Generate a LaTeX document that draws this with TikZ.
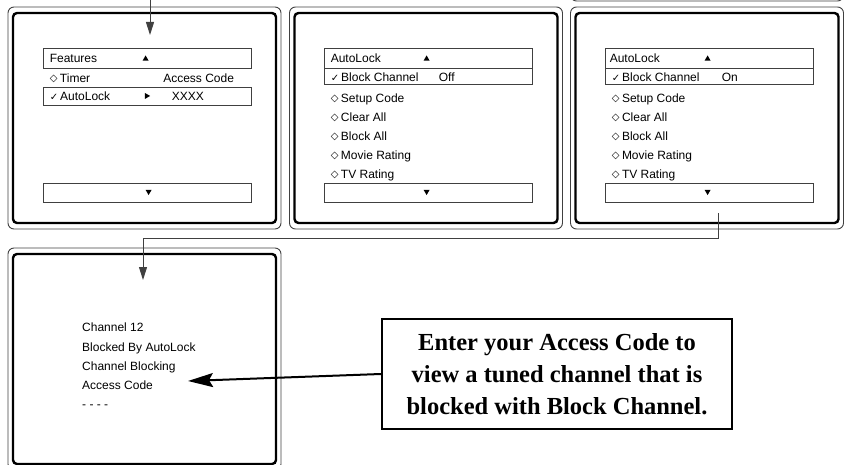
\documentclass[tikz,border=0pt]{standalone}
\usepackage{fontspec}
\setmainfont{Liberation Serif}
\newfontfamily\osd{Liberation Sans}
\newfontfamily\symb{DejaVu Sans}
\usetikzlibrary{shapes,positioning,calc,arrows.meta}
\colorlet{framegray}{black!75}
\newcommand{\dia}{{\symb\fontsize{10}{10}\selectfont\raisebox{0.6pt}{◇}}\kern2.5pt}
\newcommand{\chk}{{\symb\fontsize{10}{10}\selectfont\raisebox{-0.3pt}{✓}}\kern2pt}

\begin{document}
\begin{tikzpicture}[x=1pt, y=-1pt,
  bezel/.style={draw=framegray, line width=0.9pt, rounded corners=6pt, minimum width=273pt, minimum height=222pt, inner sep=0pt},
  screen/.style={draw, line width=2.4pt, rounded corners=4pt, minimum width=263pt, minimum height=210pt, inner sep=0pt},
  bar/.style={draw=framegray, line width=0.8pt, minimum width=208pt, minimum height=#1, inner sep=0pt},
  item/.style={inner sep=0pt, text height=8.6pt, text depth=0pt, font=\osd\fontsize{12}{14}\selectfont},
  caret/.style={regular polygon, regular polygon sides=3, fill, inner sep=0pt, minimum size=7pt},
  link/.style={draw=framegray, line width=1pt, -{Triangle[length=13pt,width=8pt]}},
  pointer/.style={line width=2pt, -{Stealth[length=25pt,width=14pt,inset=4pt]}},
  note/.style={draw, line width=2.4pt, align=center, minimum width=350pt, minimum height=110pt, font=\bfseries\fontsize{24.5}{32}\selectfont}]

\useasboundingbox (0,0) rectangle (845,465);
\clip (0,0) rectangle (845,465);

% SCREENS

\node [bezel] (p0) at (707,-110) {};

\node [bezel] (p1) at (144.5,118) {};
\node [screen] (s1) at (p1) {};

\node [bezel] (p2) at (426,118) {};
\node [screen] (s2) at (p2) {};

\node [bezel] (p3) at (707,118) {};
\node [screen] (s3) at (p3) {};

\node [bezel] (p4) at (144.5,359) {};
\node [screen] (s4) at (p4) {};

% FEATURES MENU

\node [bar=20pt, below=41pt of p1.north, xshift=2.5pt] (p1top) {};
\node [item, right=7pt of p1top.west] (p1feat) {Features};
\node [caret, right=103pt of p1top.west, anchor=center, yshift=-1pt] (p1up) {};

\node [item, below=20pt of p1feat.west, anchor=west] (p1timer) {\dia Timer};
\node [item, right=113.5pt of p1timer.west, anchor=west] (p1code) {Access Code};

\node [bar=18pt, below=38pt of p1top.center, anchor=center] (p1sel) {};
\node [item, below=18pt of p1timer.west, anchor=west] (p1auto) {\chk AutoLock};
\node [caret, shape border rotate=-90, right=104pt of p1sel.west, anchor=center] (p1right) {};
\node [item, right=129pt of p1sel.west] (p1xxxx) {XXXX};

\node [bar=19pt, above=27pt of p1.south, xshift=2.5pt] (p1bot) {};
\node [caret, shape border rotate=180, right=106pt of p1bot.west, anchor=center, yshift=1pt] (p1down) {};

% AUTOLOCK MENU, OFF

\node [bar=20pt, below=41pt of p2.north, xshift=2pt] (p2top) {};
\node [item, right=7pt of p2top.west] (p2title) {AutoLock};
\node [caret, right=103pt of p2top.west, anchor=center, yshift=-1pt] (p2up) {};

\node [bar=16pt, below=0pt of p2top] (p2sel) {};
\node [item, right=7pt of p2sel.west] (p2block) {\chk Block Channel};
\node [item, right=115pt of p2sel.west] (p2state) {Off};

\node [item, below=21pt of p2block.west, anchor=west] (p2setup) {\dia Setup Code};
\node [item, below=19pt of p2setup.west, anchor=west] (p2clear) {\dia Clear All};
\node [item, below=19pt of p2clear.west, anchor=west] (p2all) {\dia Block All};
\node [item, below=19pt of p2all.west, anchor=west] (p2movie) {\dia Movie Rating};
\node [item, below=19.5pt of p2movie.west, anchor=west] (p2tv) {\dia TV Rating};

\node [bar=19pt, above=27pt of p2.south, xshift=2pt] (p2bot) {};
\node [caret, shape border rotate=180, right=103pt of p2bot.west, anchor=center, yshift=1pt] (p2down) {};

% AUTOLOCK MENU, ON

\node [bar=20pt, below=41pt of p3.north, xshift=2pt] (p3top) {};
\node [item, right=5pt of p3top.west] (p3title) {AutoLock};
\node [caret, right=103pt of p3top.west, anchor=center, yshift=-1pt] (p3up) {};

\node [bar=16pt, below=0pt of p3top] (p3sel) {};
\node [item, right=7pt of p3sel.west] (p3block) {\chk Block Channel};
\node [item, right=117pt of p3sel.west] (p3state) {On};

\node [item, below=21pt of p3block.west, anchor=west] (p3setup) {\dia Setup Code};
\node [item, below=19pt of p3setup.west, anchor=west] (p3clear) {\dia Clear All};
\node [item, below=19pt of p3clear.west, anchor=west] (p3all) {\dia Block All};
\node [item, below=19pt of p3all.west, anchor=west] (p3movie) {\dia Movie Rating};
\node [item, below=19.5pt of p3movie.west, anchor=west] (p3tv) {\dia TV Rating};

\node [bar=19pt, above=27pt of p3.south, xshift=2pt] (p3bot) {};
\node [caret, shape border rotate=180, right=103pt of p3bot.west, anchor=center, yshift=1pt] (p3down) {};

% BLOCKED CHANNEL

\node [item, anchor=west] (chan) at (82,327) {Channel 12};
\node [item, below=20pt of chan.west, anchor=west] (blocked) {Blocked By AutoLock};
\node [item, below=19pt of blocked.west, anchor=west] (blocking) {Channel Blocking};
\node [item, below=19pt of blocking.west, anchor=west] (accode) {Access Code};
\node [item, below=19pt of accode.west, anchor=west] (dashes) {- - - -};

\node [note] (note) at (557,374) {Enter your Access Code to\\view a tuned channel that is\\blocked with Block Channel.};

% CONNECTORS

\coordinate (feed) at (150,-5);
\coordinate (p1in) at (150,35);
\coordinate (p3out) at (718,213);
\coordinate (p4in) at (143,280);
\coordinate (acctip) at (188,381);

\draw [link] (feed) -- (p1in);
\draw [link] (p3out) -- ++(0,25) -| (p4in);
\draw [pointer] (note.west) -- (acctip);

\end{tikzpicture}
\end{document}
